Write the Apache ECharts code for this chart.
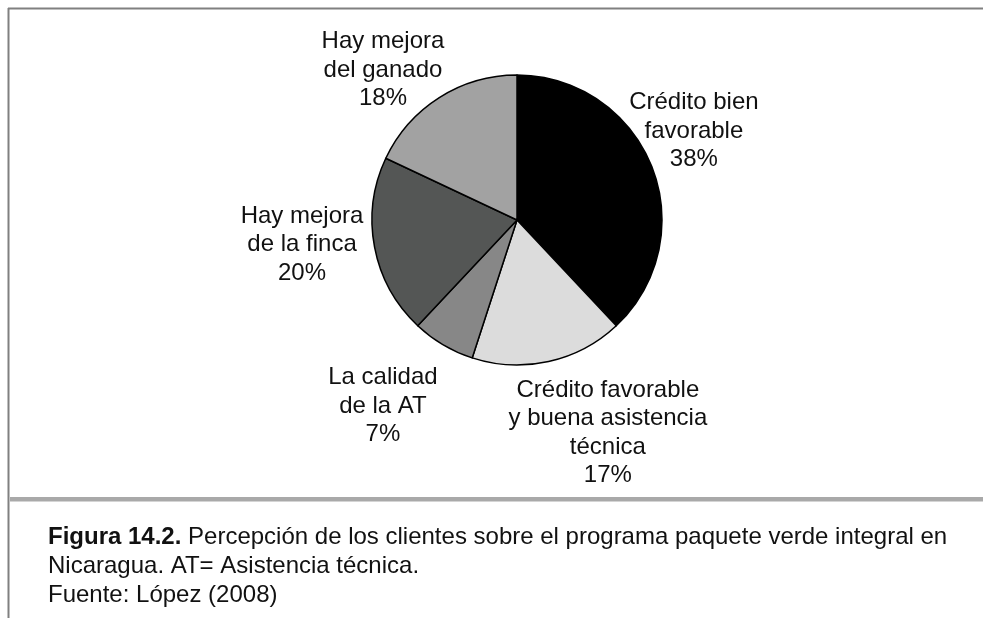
<!DOCTYPE html>
<html>
<head>
<meta charset="utf-8">
<title>Figura 14.2</title>
<script src="https://cdn.jsdelivr.net/npm/echarts@6/dist/echarts.min.js"></script>
<style>
  html, body { margin: 0; padding: 0; background: #ffffff; }
  #chart { width: 983px; height: 621px; }
</style>
</head>
<body>
<div id="chart"></div>
<script>
// Perception categories, clockwise from 12 o'clock
const categories = [
  'Crédito bien\nfavorable',
  'Crédito favorable\ny buena asistencia\ntécnica',
  'La calidad\nde la AT',
  'Hay mejora\nde la finca',
  'Hay mejora\ndel ganado'
];
// Share of clients (%)
const shares = [38, 17, 7, 20, 18];
// Grey-scale fill for each slice
const sliceColors = ['#000000', '#dcdcdc', '#878787', '#545655', '#a2a2a2'];
// Label placement: distance from the pie centre (px) and angular nudge (deg) off the slice mid-angle
const labelDist = [198, 231.6, 229.2, 216.4, 201.1];
const labelTurn = [-5.1, -10.5, 5.2, 4.2, -9.4];
// Caption lines
const captionTitle = 'Figura 14.2.';
const captionLines = [
  ' Percepción de los clientes sobre el programa paquete verde integral en',
  'Nicaragua. AT= Asistencia técnica.',
  'Fuente: López (2008)'
];

const FONT = '"Liberation Sans", Arial, Helvetica, sans-serif';
const CX = 517, CY = 220, R = 145;

const total = shares.reduce((a, b) => a + b, 0);
const midAngles = [];
let acc = 0;
shares.forEach(v => { midAngles.push((acc + v / 2) / total * 360); acc += v; });

const chart = echarts.init(document.getElementById('chart'), null, { renderer: 'canvas' });

chart.setOption({
  backgroundColor: '#ffffff',
  animation: false,
  title: {
    left: 48,
    top: 523,
    padding: 0,
    text: '{b|' + captionTitle + '}' + captionLines[0] + '\n' + captionLines.slice(1).join('\n'),
    textStyle: {
      fontFamily: FONT,
      fontSize: 24,
      fontWeight: 'normal',
      color: '#111111',
      lineHeight: 29,
      rich: {
        b: { fontFamily: FONT, fontSize: 24, fontWeight: 'bold', color: '#111111', lineHeight: 29 }
      }
    }
  },
  graphic: [
    { type: 'line', shape: { x1: 8, y1: 8.5, x2: 983, y2: 8.5 }, style: { stroke: '#808080', lineWidth: 2 } },
    { type: 'line', shape: { x1: 8.5, y1: 8, x2: 8.5, y2: 618 }, style: { stroke: '#808080', lineWidth: 2 } },
    { type: 'rect', shape: { x: 10, y: 497, width: 973, height: 4.5 }, style: { fill: '#a9a9a9' } }
  ],
  series: [{
    type: 'pie',
    center: [CX, CY],
    radius: R,
    startAngle: 90,
    clockwise: true,
    avoidLabelOverlap: false,
    silent: true,
    itemStyle: { borderColor: '#000000', borderWidth: 1.5 },
    label: {
      show: true,
      position: 'outside',
      formatter: p => p.name + '\n' + p.value + '%',
      fontFamily: FONT,
      fontSize: 24,
      lineHeight: 28.5,
      color: '#111111'
    },
    labelLine: { show: false },
    labelLayout: function (p) {
      const i = p.dataIndex;
      const a = (midAngles[i] + labelTurn[i]) * Math.PI / 180;
      return {
        x: CX + labelDist[i] * Math.sin(a),
        y: CY - labelDist[i] * Math.cos(a),
        align: 'center',
        verticalAlign: 'middle'
      };
    },
    data: categories.map((name, i) => ({
      name: name,
      value: shares[i],
      itemStyle: { color: sliceColors[i] }
    }))
  }]
});
</script>
</body>
</html>
